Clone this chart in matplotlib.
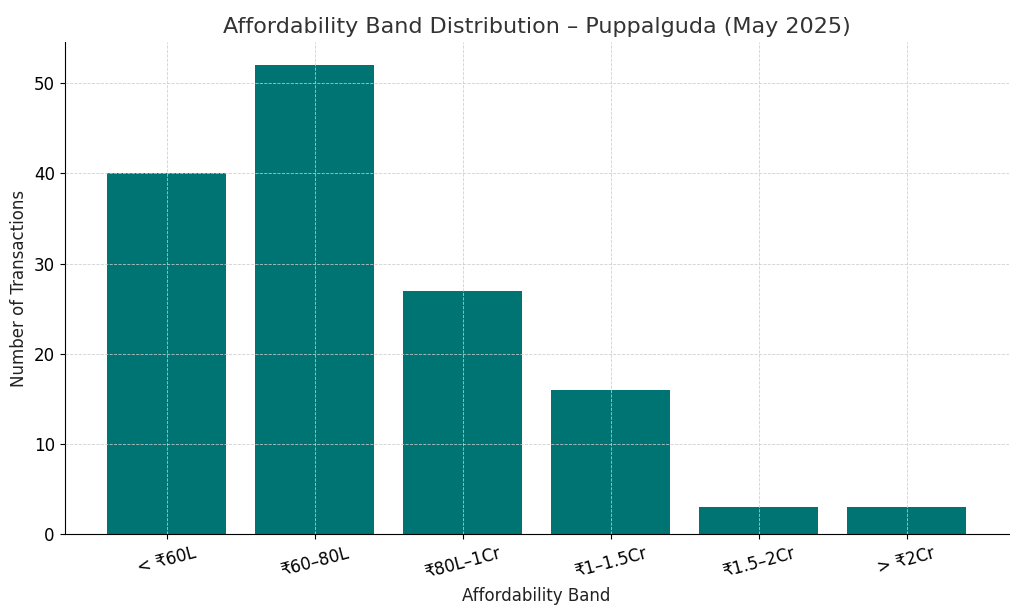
import matplotlib
matplotlib.use("Agg")
import matplotlib.pyplot as plt

bands = ["< ₹60L", "₹60–80L", "₹80L–1Cr", "₹1–1.5Cr", "₹1.5–2Cr", "> ₹2Cr"]
transactions = [40, 52, 27, 16, 3, 3]

fig, ax = plt.subplots(figsize=(10.24, 6.14), dpi=100)
fig.subplots_adjust(left=0.063, right=0.985, top=0.932, bottom=0.13)

ax.bar(bands, transactions, color="#007373", width=0.8)
ax.set_axisbelow(False)
ax.grid(True, linestyle="--", linewidth=0.6, color="#cccccc", alpha=0.9)

ax.set_title("Affordability Band Distribution – Puppalguda (May 2025)",
             fontsize=16, color="#333333")
ax.set_xlabel("Affordability Band", fontsize=12, color="#222222")
ax.set_ylabel("Number of Transactions", fontsize=12, color="#222222")
ax.tick_params(axis="both", labelsize=12)
plt.setp(ax.get_xticklabels(), rotation=15)
ax.set_ylim(0, 54.6)
ax.spines["top"].set_visible(False)
ax.spines["right"].set_visible(False)

plt.savefig("out.png", dpi=100)
